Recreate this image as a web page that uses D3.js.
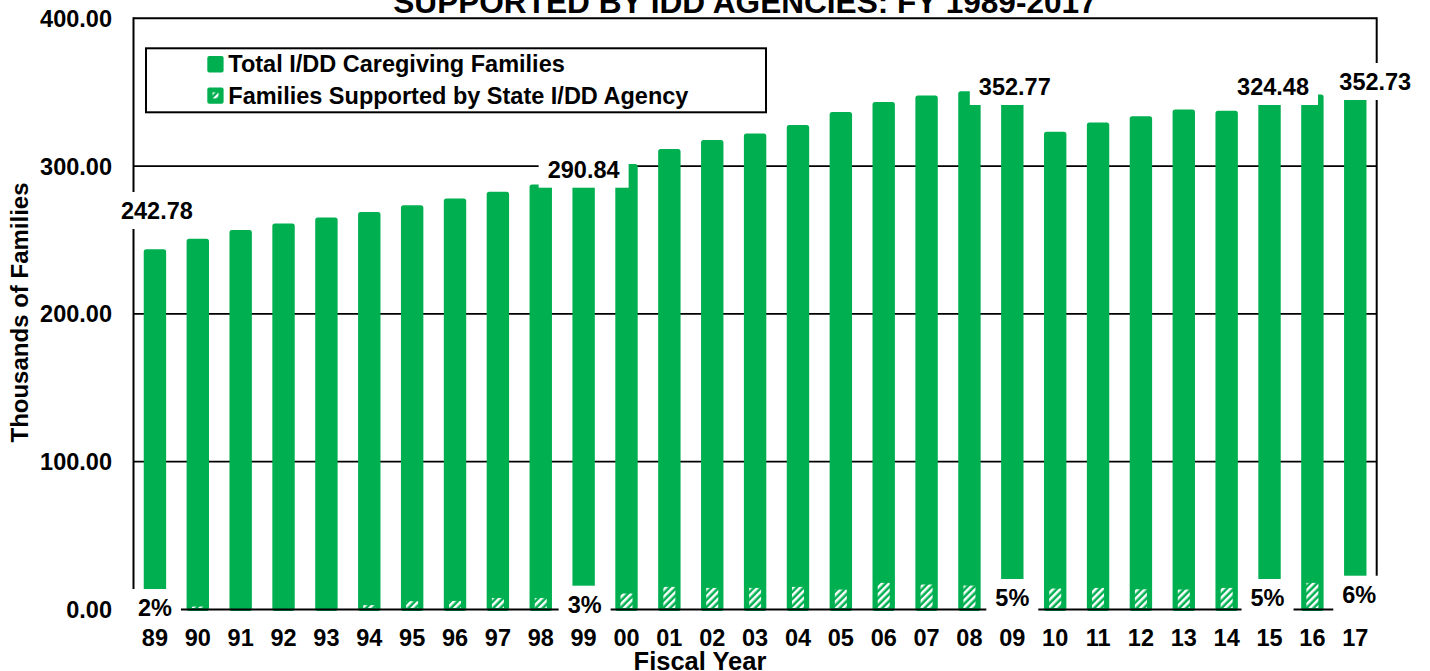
<!DOCTYPE html>
<html>
<head>
<meta charset="utf-8">
<script src="https://cdn.jsdelivr.net/npm/d3@7"></script>
<style>
  html, body { margin: 0; padding: 0; background: #fff; }
  svg { display: block; font-family: "Liberation Sans", Arial, sans-serif; font-weight: bold; }
</style>
</head>
<body>
<svg id="chart" width="1430" height="671"></svg>
<script>
// ---------- data ----------
const years = ["89","90","91","92","93","94","95","96","97","98","99","00","01","02","03","04","05","06","07","08","09","10","11","12","13","14","15","16","17"];
const totalFamilies = [242.78, 249.8, 255.8, 260.1, 264.2, 268.0, 272.5, 277.0, 281.7, 286.5, 290.84, 300.4, 310.6, 316.7, 321.0, 326.8, 335.6, 342.4, 346.7, 349.6, 352.77, 322.3, 328.4, 332.7, 337.2, 336.5, 343.0, 347.4, 352.73];
const supportedFamilies = [4.9, 2.0, 0, 0, 0, 3.0, 5.6, 5.8, 7.8, 7.8, 8.7, 10.8, 15.3, 14.6, 14.6, 15.3, 13.5, 18.0, 16.9, 16.2, 17.6, 14.2, 14.6, 13.7, 13.5, 14.6, 16.2, 18.0, 21.2];
const yTicks = [0, 100, 200, 300, 400];
const labelYears = ["89", "99", "09", "15", "17"];
const labelTotals = ["242.78", "290.84", "352.77", "324.48", "352.73"];
const labelPercents = ["2%", "3%", "5%", "5%", "6%"];
const seriesNames = ["Total I/DD Caregiving Families", "Families Supported by State I/DD Agency"];
const titleText = "SUPPORTED BY IDD AGENCIES: FY 1989-2017";

// ---------- layout (not data) ----------
const GREEN = "#00B050";
const plot = { left: 133.5, right: 1376.7, top: 18.3, bottom: 609.5 };
const valueLabelLayout = [{dx: 2, top: 192}, {dx: 0, top: 150.7}, {dx: 2.5, top: 68}, {dx: 3.5, top: 68}, {dx: 20, top: 63}];
const pctLabelLayout = [{dx: 0, top: 589}, {dx: 1, top: 585.7}, {dx: 0, top: 579}, {dx: -2, top: 579}, {dx: 4, top: 575.7}];

const svg = d3.select("#chart");

const defs = svg.append("defs");
const pat = defs.append("pattern")
  .attr("id", "hatch").attr("patternUnits", "userSpaceOnUse")
  .attr("width", 5).attr("height", 5)
  .attr("patternTransform", "rotate(45)");
pat.append("rect").attr("width", 5).attr("height", 5).attr("fill", GREEN);
pat.append("rect").attr("x", 0).attr("width", 2.5).attr("height", 5).attr("fill", "#fff");

const p = 0.4775;
const x = d3.scaleBand().domain(years).range([plot.left, plot.right]).paddingInner(p).paddingOuter(p / 2);
const y = d3.scaleLinear().domain([0, 400]).range([plot.bottom, plot.top]);

// gridlines
svg.append("g").selectAll("line").data(yTicks.filter(t => t > 0 && t < 400)).join("line")
  .attr("x1", plot.left).attr("x2", plot.right)
  .attr("y1", d => y(d)).attr("y2", d => y(d))
  .attr("stroke", "#000").attr("stroke-width", 1.8);

// total bars (with a thin same-colour border, like the original)
const bs = 3;
svg.append("g").selectAll("rect").data(years).join("rect")
  .attr("x", d => x(d) + bs / 2).attr("width", x.bandwidth() - bs)
  .attr("y", (d, i) => y(totalFamilies[i]))
  .attr("height", (d, i) => y(0) - y(totalFamilies[i]))
  .attr("rx", 1)
  .attr("fill", GREEN).attr("stroke", GREEN).attr("stroke-width", bs);

// supported bars (hatched)
const hw = x.bandwidth() * 0.67;
svg.append("g").selectAll("rect").data(years).join("rect")
  .attr("x", d => x(d) + (x.bandwidth() - hw) / 2).attr("width", hw)
  .attr("y", (d, i) => y(supportedFamilies[i]) - 1.5)
  .attr("height", (d, i) => Math.max(0, y(0) - y(supportedFamilies[i]) + 1.5))
  .attr("fill", "url(#hatch)")
  .attr("stroke", GREEN).attr("stroke-width", 3)
  .attr("display", (d, i) => supportedFamilies[i] > 0 ? null : "none");

// frame: top, left, right, baseline
const frame = svg.append("g").attr("stroke", "#000").attr("stroke-width", 2);
frame.append("line").attr("x1", plot.left).attr("x2", plot.right).attr("y1", y(400)).attr("y2", y(400));
frame.append("line").attr("x1", plot.left).attr("x2", plot.left).attr("y1", y(400) - 1).attr("y2", y(0));
frame.append("line").attr("x1", plot.right).attr("x2", plot.right).attr("y1", y(400) - 1).attr("y2", y(0));
frame.append("line").attr("x1", plot.left).attr("x2", plot.right).attr("y1", y(0)).attr("y2", y(0));

// y tick labels
svg.append("g").selectAll("text").data(yTicks).join("text")
  .attr("x", 112).attr("y", d => y(d) + 8.4)
  .attr("text-anchor", "end").attr("font-size", 23.5)
  .text(d => d.toFixed(2));

// x tick labels
svg.append("g").selectAll("text").data(years).join("text")
  .attr("x", d => x(d) + x.bandwidth() / 2).attr("y", 646)
  .attr("text-anchor", "middle").attr("font-size", 23.5)
  .text(d => d);

// value labels with white boxes
const vl = svg.append("g").selectAll("g").data(labelYears).join("g");
vl.append("rect")
  .attr("x", (d, i) => x(d) + x.bandwidth() / 2 + valueLabelLayout[i].dx - 45)
  .attr("y", (d, i) => valueLabelLayout[i].top)
  .attr("width", 90).attr("height", 37).attr("fill", "#fff");
vl.append("text")
  .attr("x", (d, i) => x(d) + x.bandwidth() / 2 + valueLabelLayout[i].dx)
  .attr("y", (d, i) => valueLabelLayout[i].top + 27)
  .attr("text-anchor", "middle").attr("font-size", 23.5)
  .text((d, i) => labelTotals[i]);

// percent labels with white boxes
const pl = svg.append("g").selectAll("g").data(labelYears).join("g");
pl.append("rect")
  .attr("x", (d, i) => x(d) + x.bandwidth() / 2 + pctLabelLayout[i].dx - 26)
  .attr("y", (d, i) => pctLabelLayout[i].top)
  .attr("width", 52).attr("height", 37).attr("fill", "#fff");
pl.append("text")
  .attr("x", (d, i) => x(d) + x.bandwidth() / 2 + pctLabelLayout[i].dx)
  .attr("y", (d, i) => pctLabelLayout[i].top + 27)
  .attr("text-anchor", "middle").attr("font-size", 23.5)
  .text((d, i) => labelPercents[i]);

// legend
const lg = svg.append("g");
lg.append("rect").attr("x", 146).attr("y", 48.3).attr("width", 620).attr("height", 64)
  .attr("fill", "#fff").attr("stroke", "#000").attr("stroke-width", 2);
seriesNames.forEach((name, i) => {
  const cy = 64.3 + i * 31.3;
  lg.append("rect").attr("x", 207.3).attr("y", cy - 8.2).attr("width", 16.3).attr("height", 16.3)
    .attr("rx", 2).attr("fill", GREEN);
  if (i === 1) {
    lg.append("rect").attr("x", 212.5).attr("y", cy - 3.2).attr("width", 6).attr("height", 6)
      .attr("fill", "url(#hatch)");
  }
  lg.append("text").attr("x", 228.3).attr("y", cy + 8).attr("font-size", 23.5).text(name);
});

// axis titles
svg.append("text").attr("x", 700).attr("y", 669.5).attr("text-anchor", "middle")
  .attr("font-size", 25.5).text("Fiscal Year");
svg.append("text").attr("transform", "translate(27.5,312.5) rotate(-90)")
  .attr("text-anchor", "middle").attr("font-size", 24).text("Thousands of Families");

// chart title (second line visible at top)
svg.append("text").attr("x", 745).attr("y", 13).attr("text-anchor", "middle")
  .attr("font-size", 31.6).text(titleText);
</script>
</body>
</html>
